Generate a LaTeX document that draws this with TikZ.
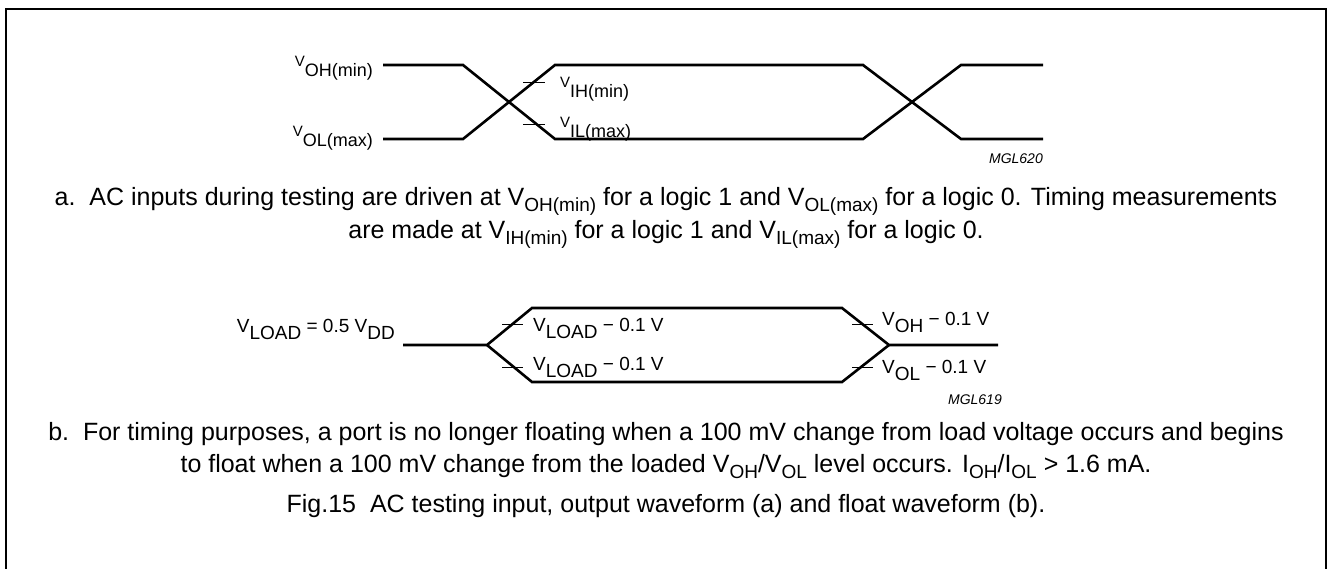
\documentclass[tikz,border=0pt]{standalone}
\usepackage{fontspec}
\setmainfont{Liberation Sans}
\newcommand\fs[1]{\fontsize{#1}{#1}\selectfont}
% diagram label: small V, big lowered subscript
\newcommand\dV[1]{{\fs{15}V}\raisebox{-10pt}{\fs{18}#1}}
% float diagram label
\newcommand\fV[1]{V\raisebox{-7pt}{#1}}
% caption text subscript
\newcommand\cV[1]{V\raisebox{-6pt}{\fs{19}#1}}
\tikzset{
  wave/.style={line width=2.6pt, line join=miter},
  tickmark/.style={line width=0.8pt},
  lbl/.style={inner sep=0pt, font=\fs{18}},
  flbl/.style={inner sep=0pt, font=\fs{19}},
  captxt/.style={inner sep=0pt, font=\fs{25}, anchor=base},
  mglcode/.style={inner sep=0pt, font=\fs{14}\itshape, anchor=base east}
}
\begin{document}
\begin{tikzpicture}[x=1pt,y=-1pt]
\useasboundingbox (0,0) rectangle (1328,568);
\draw[line width=2pt] (6,570) -- (6,9) -- (1326,9) -- (1326,570);
% ---- waveform a
\node[lbl, anchor=base east] (voh) at (373,66) {\dV{OH(min)}};
\node[lbl, anchor=base east] (vol) at (373,136) {\dV{OL(max)}};
\coordinate (a1) at (383,65);
\coordinate (a2) at (383,139);
\draw[wave] (a1) -- (463,65) -- (555,139) -- (863,139) -- (961,65) -- (1043,65);
\draw[wave] (a2) -- (463,139) -- (555,65) -- (863,65) -- (961,139) -- (1043,139);
\draw[tickmark] (523,82) -- (545,82);
\draw[tickmark] (523,124) -- (545,124);
\node[lbl, anchor=base west] (vih) at (560,87) {\dV{IH(min)}};
\node[lbl, anchor=base west] (vil) at (560,127) {\dV{IL(max)}};
\node[mglcode] (m620) at (1043,163) {MGL620};
% ---- caption a
\node[captxt] (ta1) at (666,205) {a.\ \ AC inputs during testing are driven at \cV{OH(min)} for a logic 1 and \cV{OL(max)} for a logic 0. Timing measurements};
\node[captxt] (ta2) at (666,238) {are made at \cV{IH(min)} for a logic 1 and \cV{IL(max)} for a logic 0.};
% ---- waveform b
\node[flbl, anchor=base east] (vload) at (395,332) {\fV{LOAD} = 0.5 \fV{DD}};
\coordinate (b0) at (403,345);
\draw[wave] (b0) -- (487,345) -- (532,308) -- (842,308) -- (889,345) -- (998,345);
\draw[wave] (487,345) -- (532,382) -- (842,382) -- (889,345);
\draw[tickmark] (502,324) -- (523,324);
\draw[tickmark] (502,367) -- (523,367);
\draw[tickmark] (852,324) -- (873,324);
\draw[tickmark] (852,367) -- (873,367);
\node[flbl, anchor=base west] (l1) at (533,331) {\fV{LOAD} − 0.1 V};
\node[flbl, anchor=base west] (l2) at (533,370) {\fV{LOAD} − 0.1 V};
\node[flbl, anchor=base west] (l3) at (882,325) {\fV{OH} − 0.1 V};
\node[flbl, anchor=base west] (l4) at (882,373) {\fV{OL} − 0.1 V};
\node[mglcode] (m619) at (1002,404) {MGL619};
% ---- caption b
\node[captxt] (tb1) at (666,440) {b.\ \ For timing purposes, a port is no longer floating when a 100 mV change from load voltage occurs and begins};
\node[captxt] (tb2) at (666,472) {to float when a 100 mV change from the loaded \cV{OH}/\cV{OL} level occurs. I\raisebox{-6pt}{\fs{19}OH}/I\raisebox{-6pt}{\fs{19}OL} {>} 1.6 mA.};
\node[captxt] (fig) at (666,512) {Fig.15\ \ AC testing input, output waveform (a) and float waveform (b).};
\end{tikzpicture}
\end{document}
